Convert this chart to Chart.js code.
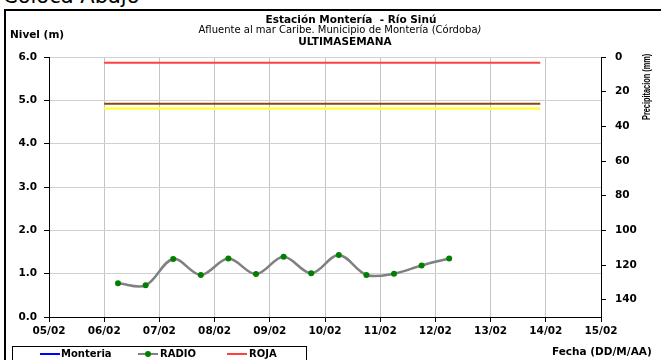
<!DOCTYPE html>
<html>
<head>
<meta charset="utf-8">
<script src="https://cdn.jsdelivr.net/npm/chart.js@4/dist/chart.umd.min.js"></script>
<style>
    body { margin: 0; width: 661px; height: 360px; overflow: hidden; background: #fff; position: relative; font-family: "DejaVu Sans", sans-serif; color: #000; }
    #frame { position: absolute; left: 4px; top: 9px; width: 700px; height: 400px; border-left: 2px solid #000; border-top: 2px solid #000; }
    #chartBox { position: absolute; left: 0; top: 0; width: 661px; height: 360px; }
    .txt { position: absolute; white-space: nowrap; }
    .b { font-weight: bold; }
    #legend { position: absolute; left: 12px; top: 346px; width: 293px; height: 14px; border: 1px solid #000; background: #fff; font-size: 10px; font-weight: bold; }
    .lg-line { position: absolute; top: 6px; height: 2px; width: 20px; }
    .lg-dot { position: absolute; top: 4px; width: 6px; height: 6px; border-radius: 50%; background: #008000; }
    .lg-txt { position: absolute; top: 1px; }
</style>
</head>
<body>
<div class="txt" style="left:3px; top:-16px; font-size:21px;">Coloca Abajo</div>
<div id="frame"></div>
<div id="chartBox"><canvas id="nivelChart" width="661" height="360"></canvas></div>

<div class="txt b" style="left:0; width:702px; top:13px; font-size:10.5px; text-align:center;">Estación Montería &nbsp;- Río Sinú</div>
<div class="txt" style="left:0; width:680px; top:24px; font-size:10px; text-align:center;">Afluente al mar Caribe. Municipio de Montería (Córdoba<i>)</i></div>
<div class="txt b" style="left:0; width:690px; top:35px; font-size:10.5px; text-align:center;">ULTIMASEMANA</div>
<div class="txt b" style="left:10px; top:28px; font-size:10.5px;">Nivel (m)</div>
<div class="txt b" style="left:640px; top:120px; font-family:'Liberation Sans'; font-size:11.5px; transform-origin:0 0; transform:rotate(-90deg) scaleX(0.64);">Precipitacion (mm)</div>
<div class="txt b" style="left:552px; top:345px; font-size:10.5px;">Fecha (DD/M/AA)</div>

<div id="legend">
    <div class="lg-line" style="left:27px; background:#0000ff;"></div>
    <div class="lg-txt" style="left:48px;">Monteria</div>
    <div class="lg-line" style="left:125px; background:#808080;"></div>
    <div class="lg-dot" style="left:132px;"></div>
    <div class="lg-txt" style="left:147px;">RADIO</div>
    <div class="lg-line" style="left:214px; background:#ff4040;"></div>
    <div class="lg-txt" style="left:236px;">ROJA</div>
</div>

<script>
// dias desde 05/02 00:00 (lecturas a las 06h y 18h)
const radioDays = [1.25, 1.75, 2.25, 2.75, 3.25, 3.75, 4.25, 4.75, 5.25, 5.75, 6.25, 6.75, 7.25];
const radioLevels = [0.78, 0.73, 1.34, 0.97, 1.35, 0.99, 1.39, 1.01, 1.43, 0.97, 1.00, 1.19, 1.35];

// niveles de alerta (m), trazados entre alertStart y alertEnd
const alertStart = 1.0;
const alertEnd = 8.9;
const nivelRoja = 5.87;
const nivelNaranja = 4.92;
const nivelAmarilla = 4.81;

const xTickLabels = ['05/02', '06/02', '07/02', '08/02', '09/02', '10/02', '11/02', '12/02', '13/02', '14/02', '15/02'];

const tickFont = { family: 'DejaVu Sans', size: 10.5, weight: 'bold' };

function flatLine(level) {
    return [{ x: alertStart, y: level }, { x: alertEnd, y: level }];
}

const ctx = document.getElementById('nivelChart').getContext('2d');

new Chart(ctx, {
    type: 'line',
    data: {
        datasets: [
            {
                label: 'Monteria',
                data: [],
                borderColor: '#0000ff',
                pointRadius: 0
            },
            {
                label: 'RADIO',
                data: radioDays.map((d, i) => ({ x: d, y: radioLevels[i] })),
                borderColor: '#808080',
                borderWidth: 2.5,
                tension: 0.35,
                pointRadius: 3,
                pointBackgroundColor: '#008000',
                pointBorderColor: '#008000',
                pointBorderWidth: 0
            },
            {
                label: 'ROJA',
                data: flatLine(nivelRoja),
                borderColor: '#ff4040',
                borderWidth: 2,
                pointRadius: 0
            },
            {
                label: 'NARANJA',
                data: flatLine(nivelNaranja),
                borderColor: '#8b4513',
                borderWidth: 2,
                pointRadius: 0
            },
            {
                label: 'AMARILLA',
                data: flatLine(nivelAmarilla),
                borderColor: '#ffff40',
                borderWidth: 2.5,
                pointRadius: 0
            }
        ]
    },
    options: {
        responsive: false,
        animation: false,
        devicePixelRatio: 1,
        layout: { padding: { top: 57, left: 0, right: 0, bottom: 0 } },
        plugins: {
            legend: { display: false },
            tooltip: { enabled: false }
        },
        scales: {
            x: {
                type: 'linear',
                min: 0,
                max: 10,
                afterFit: (scale) => { scale.height = 43; },
                ticks: {
                    stepSize: 1,
                    padding: 3,
                    color: '#000',
                    font: tickFont,
                    maxRotation: 0,
                    callback: (v) => xTickLabels[v]
                },
                grid: { color: '#c4c4c4', tickColor: '#000', tickLength: 5 },
                border: { color: '#000', width: 1 }
            },
            y: {
                position: 'left',
                min: 0,
                max: 6,
                afterFit: (scale) => { scale.width = 49; },
                ticks: {
                    stepSize: 1,
                    padding: 7,
                    color: '#000',
                    font: tickFont,
                    callback: (v) => v.toFixed(1)
                },
                grid: { color: '#d0d0d0', tickColor: '#000', tickLength: 5 },
                border: { color: '#000', width: 1 }
            },
            precip: {
                position: 'right',
                reverse: true,
                min: 0,
                max: 150,
                afterFit: (scale) => { scale.width = 60; },
                ticks: {
                    stepSize: 20,
                    includeBounds: false,
                    padding: 9,
                    color: '#000',
                    font: tickFont
                },
                grid: { drawOnChartArea: false, tickColor: '#000', tickLength: 5 },
                border: { color: '#000', width: 1 }
            }
        }
    }
});
</script>
</body>
</html>
